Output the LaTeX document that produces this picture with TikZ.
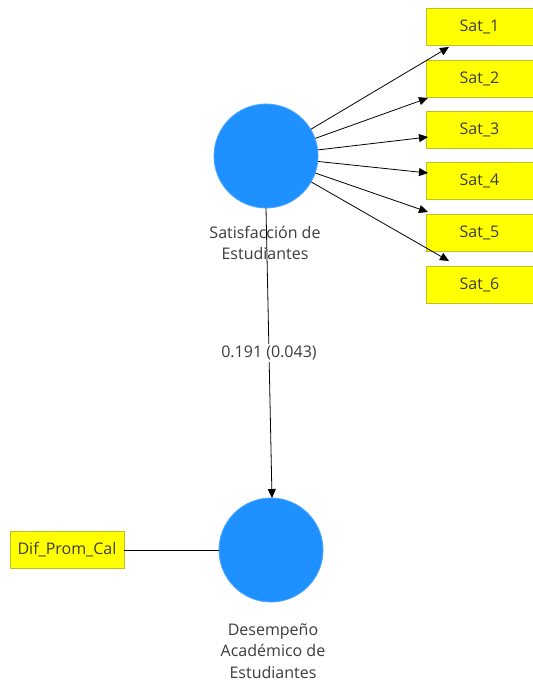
\documentclass[tikz,border=0pt]{standalone}
\usepackage{fontspec}
\setmainfont{Open Sans}
\usetikzlibrary{arrows.meta}
\definecolor{lvblue}{RGB}{30,144,255}
\definecolor{indyel}{RGB}{255,255,0}
\definecolor{indbord}{RGB}{190,190,40}
\definecolor{txtgray}{RGB}{60,60,60}
\begin{document}
\begin{tikzpicture}[x=1pt,y=-1pt,
  latent/.style={circle,fill=lvblue,draw=lvblue!80!white,line width=0.8pt,minimum size=104pt,inner sep=0pt},
  indicator/.style={rectangle,fill=indyel,draw=indbord,line width=0.6pt,minimum height=37pt,inner sep=0pt,font=\fontsize{16}{18}\selectfont,text=txtgray},
  lvlabel/.style={align=center,font=\fontsize{16}{21.5}\selectfont,text=txtgray},
  arr/.style={draw=black,line width=0.8pt,-{Triangle[length=9pt,width=8pt]}},
  conn/.style={draw=black,line width=0.8pt}]
\useasboundingbox (0,0) rectangle (533,686);
\fill[white] (0,0) rectangle (533,686);

\node[latent] (sat) at (266,156) {};
\node[latent] (des) at (271,550) {};

\node[lvlabel] (satlab) at (265,243) {Satisfacción de\\Estudiantes};
\node[lvlabel] (deslab) at (273,651) {Desempeño\\Académico de\\Estudiantes};

\foreach \i/\y in {1/26.5,2/78.5,3/130,4/181,5/232.5,6/284.5}{
  \node[indicator,minimum width=107pt] (s\i) at (479.5,\y) {Sat\_\i};
}
\node[indicator,minimum width=114pt] (dif) at (67,550) {Dif\_Prom\_Cal};

\coordinate (t1) at (449,47);
\coordinate (t2) at (428,98);
\coordinate (t3) at (428,137);
\coordinate (t4) at (428,173);
\coordinate (t5) at (428,212);
\coordinate (t6) at (449,261);
\foreach \i in {1,...,6}{ \draw[arr] (sat) -- (t\i); }

\coordinate (vstart) at (266,208);
\coordinate (vend) at (272,498);
\draw[arr] (vstart) -- (vend) node[pos=0.5,fill=white,inner sep=2pt,font=\fontsize{16}{18}\selectfont,text=txtgray] (coef) {0.191 (0.043)};

\draw[conn] (dif) -- (des);
\end{tikzpicture}
\end{document}
